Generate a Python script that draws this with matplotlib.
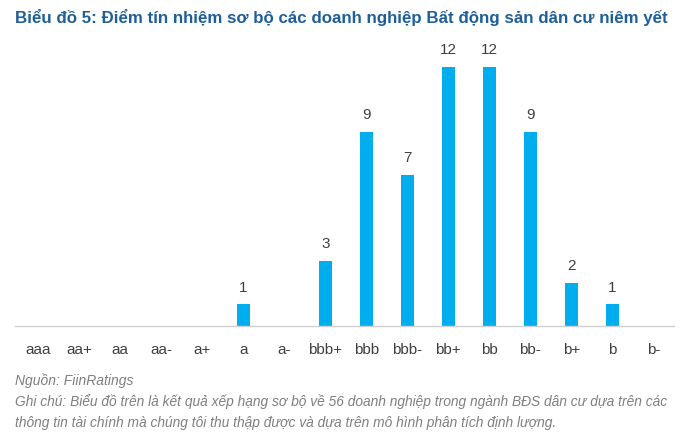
import matplotlib
matplotlib.use("Agg")
import matplotlib.pyplot as plt

plt.rcParams["font.family"] = ["Liberation Sans", "DejaVu Sans"]

RATINGS = ["aaa", "aa+", "aa", "aa-", "a+", "a", "a-", "bbb+", "bbb", "bbb-",
           "bb+", "bb", "bb-", "b+", "b", "b-"]
COUNTS = [0, 0, 0, 0, 0, 1, 0, 3, 9, 7, 12, 12, 9, 2, 1, 0]

TITLE = "Biểu đồ 5: Điểm tín nhiệm sơ bộ các doanh nghiệp Bất động sản dân cư niêm yết"
SOURCE = "Nguồn: FiinRatings"
NOTE = ("Ghi chú: Biểu đồ trên là kết quả xếp hạng sơ bộ về 56 doanh nghiệp trong ngành BĐS dân cư dựa trên các\n"
        "thông tin tài chính mà chúng tôi thu thập được và dựa trên mô hình phân tích định lượng.")

BAR_COLOR = "#00AEEF"
TITLE_COLOR = "#1F5F99"

fig = plt.figure(figsize=(7, 4.41), dpi=100)
ax = fig.add_axes([15 / 700, 1 - 326 / 441, 659 / 700, 286 / 441])

x = range(len(RATINGS))
bars = ax.bar(x, COUNTS, width=0.32, color=BAR_COLOR)
for xi, v in zip(x, COUNTS):
    if v > 0:
        ax.annotate(str(v), (xi, v), xytext=(0, 7), textcoords="offset points",
                    ha="center", va="bottom", fontsize=11, color="#404040")

ax.set_xlim(-0.56, 15.5)
ax.set_ylim(0, 286 / 21.6)
ax.set_xticks(list(x))
ax.set_xticklabels(RATINGS, fontsize=11, color="#404040")
ax.tick_params(axis="x", length=0, pad=12)
ax.set_yticks([])
for side in ["top", "left", "right"]:
    ax.spines[side].set_visible(False)
ax.spines["bottom"].set_color("#D0D0D0")
ax.spines["bottom"].set_linewidth(1)

fig.text(15 / 700, 1 - 18 / 441, TITLE, fontsize=12.2, fontweight="bold",
         color=TITLE_COLOR, ha="left", va="center")
fig.text(15 / 700, 1 - 381 / 441, SOURCE, fontsize=10, style="italic",
         color="#7F7F7F", ha="left", va="center")
fig.text(15 / 700, 1 - 412 / 441, NOTE, fontsize=9.9, style="italic",
         color="#7F7F7F", ha="left", va="center", linespacing=1.55)

fig.savefig("out.png", dpi=100)
